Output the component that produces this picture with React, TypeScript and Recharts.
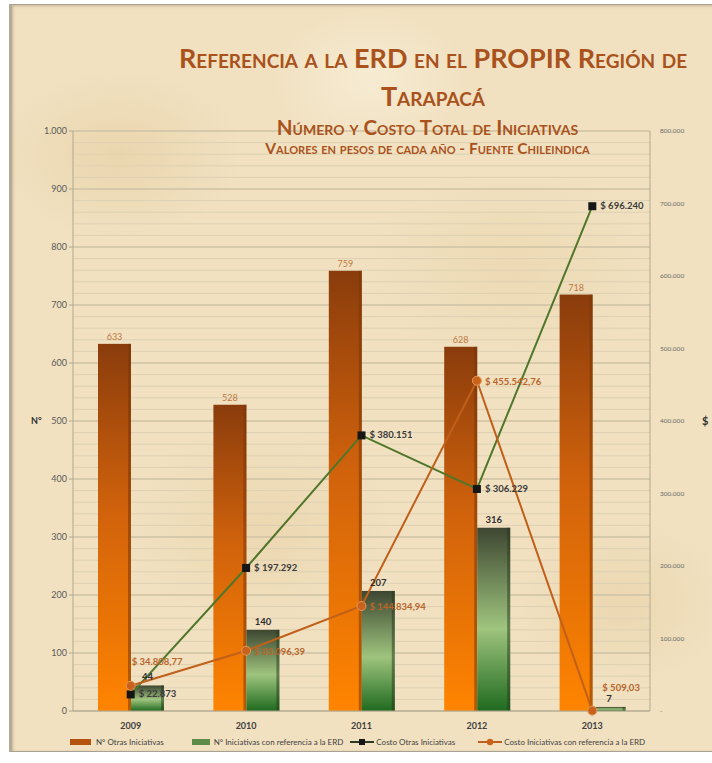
import React from 'react';
import {
  ComposedChart,
  Bar,
  Line,
  XAxis,
  YAxis,
  CartesianGrid,
  Legend,
  LabelList,
} from 'recharts';

const years = ['2009', '2010', '2011', '2012', '2013'];
const otrasCount = [633, 528, 759, 628, 718];
const erdCount = [44, 140, 207, 316, 7];
const otrasCost = [22873, 197292, 380151, 306229, 696240];
const erdCost = [34808.77, 83096.39, 144834.94, 455542.76, 509.03];

const leftTicks = [0, 100, 200, 300, 400, 500, 600, 700, 800, 900, 1000];
const rightTicks = [0, 100000, 200000, 300000, 400000, 500000, 600000, 700000, 800000];
const minorGrid = Array.from({ length: 51 }, (_, i) => i * 20);

const data = years.map((year, i) => ({
  year,
  otras: otrasCount[i],
  erd: erdCount[i],
  costoOtras: otrasCost[i],
  costoErd: erdCost[i],
}));

const FONT = 'Lato, "Open Sans", sans-serif';

// spanish style numbers: 1.000 and 34.808,77
const fmtInt = (v: number) =>
  Math.round(v).toString().replace(/\B(?=(\d{3})+(?!\d))/g, '.');
const fmtDec = (v: number) => {
  const [ent, dec] = v.toFixed(2).split('.');
  return ent.replace(/\B(?=(\d{3})+(?!\d))/g, '.') + ',' + dec;
};

const OrangeBar = (props: any) => {
  const { x, y, width, height } = props;
  if (!height || height <= 0) return null;
  return (
    <g>
      <rect x={x} y={y} width={width} height={height} fill="url(#gOrange)" />
      <rect x={x + width - 3} y={y} width={3} height={height} fill="#7a3608" opacity={0.55} />
    </g>
  );
};

const GreenBar = (props: any) => {
  const { x, y, width, height } = props;
  if (!height || height <= 0) return null;
  return (
    <g>
      <rect x={x} y={y} width={width} height={height} fill="url(#gGreen)" />
      <rect x={x + width - 3} y={y} width={3} height={height} fill="#23381a" opacity={0.5} />
    </g>
  );
};

const SquareDot = (props: any) => {
  const { cx, cy } = props;
  return <rect x={cx - 4} y={cy - 4} width={8} height={8} fill="#161616" />;
};

const CircleDot = (props: any) => {
  const { cx, cy } = props;
  return <circle cx={cx} cy={cy} r={4.5} fill="#c8621c" stroke="#e59a55" strokeWidth={1} />;
};

const otrasCostLabel = (props: any) => {
  const { x, y, value } = props;
  return (
    <text x={x + 8} y={y + 3} fontSize={9.5} fontWeight={700} fill="#3b3b3b" fontFamily={FONT}>
      {'$ ' + fmtInt(value)}
    </text>
  );
};

const erdCostLabel = (props: any) => {
  const { x, y, value, index } = props;
  let dx = 8;
  let dy = 4;
  if (index === 0) {
    dx = 1;
    dy = -21;
  }
  if (index === 4) {
    dx = 10;
    dy = -20;
  }
  return (
    <text x={x + dx} y={y + dy} fontSize={9.5} fontWeight={700} fill="#b8642a" fontFamily={FONT}>
      {'$ ' + fmtDec(value)}
    </text>
  );
};

const legendItems = [
  { label: 'N° Otras Iniciativas', kind: 'rectO', gap: 24 },
  { label: 'N° Iniciativas con referencia a la ERD', kind: 'rectG', gap: 7 },
  { label: 'Costo Otras Iniciativas', kind: 'lineSq', gap: 23 },
  { label: 'Costo Iniciativas con referencia a la ERD', kind: 'lineCi', gap: 0 },
];

const LegendContent = () => (
  <div style={{ display: 'flex', alignItems: 'center', fontFamily: FONT, fontSize: 8, color: '#3f3f3f', whiteSpace: 'nowrap' }}>
    {legendItems.map((it) => (
      <div key={it.label} style={{ display: 'flex', alignItems: 'center', marginRight: it.gap }}>
        <svg width={24} height={10} style={{ marginRight: 2 }}>
          {it.kind === 'rectO' && <rect x={0} y={2} width={21} height={6} fill="#b4520e" />}
          {it.kind === 'rectG' && <rect x={4} y={2} width={18} height={6} fill="#5e8c48" />}
          {it.kind === 'lineSq' && (
            <g>
              <line x1={0} y1={5} x2={24} y2={5} stroke="#2e3a22" strokeWidth={2} />
              <rect x={9} y={2} width={6} height={6} fill="#161616" />
            </g>
          )}
          {it.kind === 'lineCi' && (
            <g>
              <line x1={0} y1={5} x2={24} y2={5} stroke="#c0601a" strokeWidth={2} />
              <circle cx={12} cy={5} r={3.2} fill="#c8621c" />
            </g>
          )}
        </svg>
        <span>{it.label}</span>
      </div>
    ))}
  </div>
);

const titleColor = '#a9521c';

export default function App() {
  return (
    <div style={{ position: 'absolute', left: 0, top: 0, width: 712, height: 763, background: '#fff', overflow: 'hidden' }}>
      <div
        style={{
          position: 'absolute',
          left: 9,
          top: 4,
          width: 720,
          height: 748,
          boxSizing: 'border-box',
          border: '1px solid #a8a294',
          borderLeft: '3px solid #b3ab96',
          boxShadow: 'inset 1px 1px 3px rgba(120,100,70,0.35)',
          background:
            'radial-gradient(ellipse 180px 120px at 15% 20%, rgba(226,200,150,0.45), transparent 70%),' +
            'radial-gradient(ellipse 220px 140px at 70% 35%, rgba(230,206,158,0.38), transparent 70%),' +
            'radial-gradient(ellipse 200px 150px at 35% 70%, rgba(228,202,152,0.4), transparent 70%),' +
            'radial-gradient(ellipse 160px 120px at 85% 80%, rgba(226,200,150,0.38), transparent 70%),' +
            'radial-gradient(ellipse 140px 100px at 50% 10%, rgba(250,242,222,0.6), transparent 70%),' +
            '#f1e1c1',
        }}
      />
      <div style={{ position: 'absolute', left: 0, top: 0 }}>
        <ComposedChart
          width={712}
          height={763}
          data={data}
          margin={{ top: 131, right: 12, left: 33, bottom: 32 }}
          barGap={0}
        >
          <defs>
            <linearGradient id="gOrange" x1="0" y1="0" x2="0" y2="1">
              <stop offset="0%" stopColor="#8a3c0c" />
              <stop offset="45%" stopColor="#d0620c" />
              <stop offset="100%" stopColor="#ff8400" />
            </linearGradient>
            <linearGradient id="gGreen" x1="0" y1="0" x2="0" y2="1">
              <stop offset="0%" stopColor="#3d4631" />
              <stop offset="55%" stopColor="#9fc47e" />
              <stop offset="100%" stopColor="#1f6a1f" />
            </linearGradient>
          </defs>
          <CartesianGrid
            yAxisId="left"
            vertical={false}
            horizontalValues={minorGrid}
            stroke="#ddd1b3"
            strokeWidth={1}
          />
          <CartesianGrid
            yAxisId="left"
            vertical={false}
            horizontalValues={leftTicks}
            stroke="#c7bb9d"
            strokeWidth={1}
          />
          <XAxis
            dataKey="year"
            height={20}
            axisLine={{ stroke: '#b1a88f' }}
            tickLine={false}
            tick={{ fontSize: 9, fontWeight: 700, fill: '#3f3f3f', fontFamily: FONT }}
            tickMargin={6}
          />
          <YAxis
            yAxisId="left"
            orientation="left"
            width={40}
            domain={[0, 1000]}
            ticks={leftTicks}
            interval={0}
            tickFormatter={fmtInt}
            axisLine={{ stroke: '#b1a88f' }}
            tickLine={{ stroke: '#b1a88f' }}
            tickSize={4}
            tick={{ fontSize: 9, fill: '#5a5a5a', fontFamily: FONT }}
            label={{ value: 'N°', position: 'insideLeft', offset: -2, fontSize: 9, fontWeight: 700, fill: '#333', fontFamily: FONT }}
          />
          <YAxis
            yAxisId="right"
            orientation="right"
            width={50}
            domain={[0, 800000]}
            ticks={rightTicks}
            interval={0}
            tickFormatter={(v: number) => (v === 0 ? '-' : fmtInt(v))}
            axisLine={{ stroke: '#b1a88f' }}
            tickLine={false}
            tickMargin={4}
            tick={{ fontSize: 6.5, fill: '#6a6a6a', fontFamily: FONT }}
            label={{ value: '$', position: 'right', offset: 2, fontSize: 11, fontWeight: 700, fill: '#333', fontFamily: FONT }}
          />
          <Bar yAxisId="left" dataKey="otras" barSize={33} shape={<OrangeBar />} isAnimationActive={false}>
            <LabelList dataKey="otras" position="top" offset={4} fontSize={9} fill="#c0773e" fontFamily={FONT} />
          </Bar>
          <Bar yAxisId="left" dataKey="erd" barSize={33} shape={<GreenBar />} isAnimationActive={false}>
            <LabelList dataKey="erd" position="top" offset={5} fontSize={9.5} fontWeight={700} fill="#2f2f2f" fontFamily={FONT} />
          </Bar>
          <Line
            yAxisId="right"
            dataKey="costoOtras"
            stroke="#4f7629"
            strokeWidth={2}
            dot={<SquareDot />}
            activeDot={false}
            isAnimationActive={false}
          >
            <LabelList dataKey="costoOtras" content={otrasCostLabel} />
          </Line>
          <Line
            yAxisId="right"
            dataKey="costoErd"
            stroke="#c0601a"
            strokeWidth={2}
            dot={<CircleDot />}
            activeDot={false}
            isAnimationActive={false}
          >
            <LabelList dataKey="costoErd" content={erdCostLabel} />
          </Line>
          <Legend
            layout="horizontal"
            verticalAlign="middle"
            content={<LegendContent />}
            wrapperStyle={{ left: 70, top: 737, width: 620, height: 14 }}
          />
        </ComposedChart>
      </div>
      <div
        style={{
          position: 'absolute',
          left: 0,
          width: 866,
          top: 39,
          textAlign: 'center',
          fontFamily: FONT,
          fontWeight: 700,
          color: titleColor,
          fontVariant: 'small-caps',
          pointerEvents: 'none',
        }}
      >
        <div style={{ fontSize: 27, lineHeight: '38px' }}>Referencia a la ERD en el PROPIR Región de</div>
        <div style={{ fontSize: 27, lineHeight: '38px' }}>Tarapacá</div>
      </div>
      <div
        style={{
          position: 'absolute',
          left: 0,
          width: 855,
          top: 116,
          textAlign: 'center',
          fontFamily: FONT,
          fontWeight: 700,
          color: titleColor,
          fontVariant: 'small-caps',
          fontSize: 20.5,
          lineHeight: '22px',
          pointerEvents: 'none',
        }}
      >
        Número y Costo Total de Iniciativas
      </div>
      <div
        style={{
          position: 'absolute',
          left: 0,
          width: 855,
          top: 140,
          textAlign: 'center',
          fontFamily: FONT,
          fontWeight: 700,
          color: titleColor,
          fontVariant: 'small-caps',
          fontSize: 15.5,
          lineHeight: '16px',
          pointerEvents: 'none',
        }}
      >
        Valores en pesos de cada año - Fuente Chileindica
      </div>
    </div>
  );
}
